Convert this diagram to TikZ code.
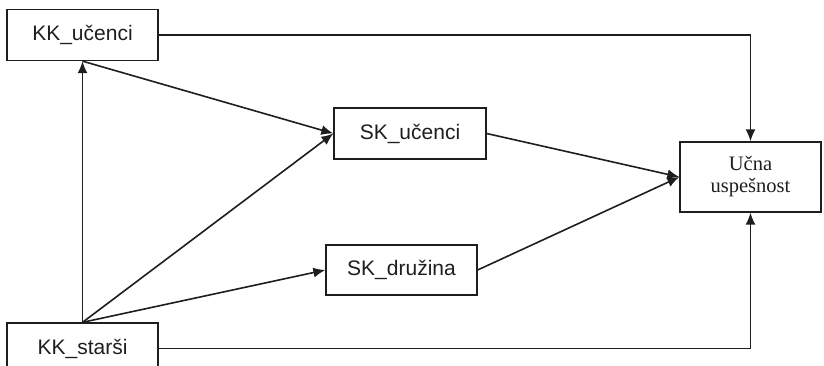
\documentclass[tikz,border=0pt]{standalone}
\usepackage{fontspec}
\setmainfont{Liberation Serif}
\newfontfamily\boxsans{Liberation Sans}
\usetikzlibrary{arrows.meta}
\definecolor{ink}{HTML}{1E1E1E}
\tikzset{
  box/.style={draw=ink, line width=1.3pt, rectangle, inner sep=0pt, font=\boxsans\fontsize{21}{24}\selectfont, text=ink},
  conn/.style={draw=ink, line width=1.6pt, -{Latex[length=12pt,width=10pt]}}
}
\begin{document}
\begin{tikzpicture}[x=1pt,y=-1pt]
\useasboundingbox (0,0) rectangle (824,366);
\clip (0,0) rectangle (824,366);
\node[box, minimum width=151pt, minimum height=51pt] (ku) at (82.5,35) {KK\_učenci};
\node[box, minimum width=151pt, minimum height=51pt] (ks) at (82.5,348.5) {KK\_starši};
\node[box, minimum width=152pt, minimum height=51pt] (su) at (410,133.5) {SK\_učenci};
\node[box, minimum width=151pt, minimum height=50pt] (sd) at (401.5,270) {SK\_družina};
\node[box, minimum width=141pt, minimum height=70pt, font=\fontsize{20.5}{22}\selectfont, align=center] (uu) at (750.5,177) {Učna\\uspešnost};
\draw[conn] (ks.north) -- (ku.south);
\draw[conn] (ku.south) -- (su.west);
\draw[conn] (ks.north) -- (su.west);
\draw[conn] (ks.north) -- (sd.west);
\draw[conn] (su.east) -- (uu.west);
\draw[conn] (sd.east) -- (uu.west);
\draw[conn] (ku.east) -| (uu.north);
\draw[conn] (ks.east) -| (uu.south);
\end{tikzpicture}
\end{document}
